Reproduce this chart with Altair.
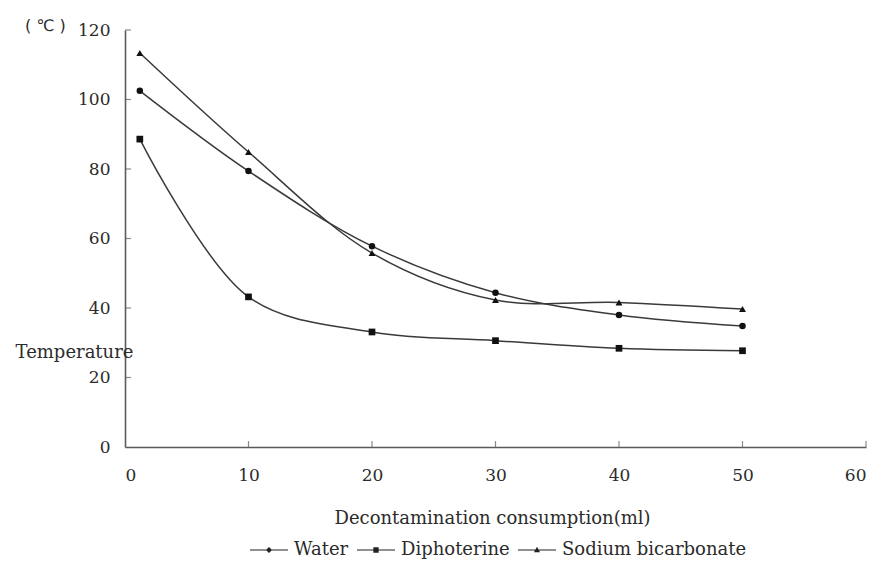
import altair as alt
import pandas as pd

# ---- data ----
consumption = [1.2, 10, 20, 30, 40, 50]
water = [102.5, 79.4, 57.8, 44.4, 38.0, 34.8]
diphoterine = [88.6, 43.2, 33.1, 30.6, 28.4, 27.7]
sodium_bicarbonate = [113.4, 84.9, 55.8, 42.3, 41.6, 39.7]
series_names = ["Water", "Diphoterine", "Sodium bicarbonate"]
x_tick_values = [0, 10, 20, 30, 40, 50, 60]
y_tick_values = [0, 20, 40, 60, 80, 100, 120]

rows = []
for name, vals in zip(series_names, [water, diphoterine, sodium_bicarbonate]):
    for x, v in zip(consumption, vals):
        rows.append({"x": x, "temp": v, "series": name})
df = pd.DataFrame(rows)

FONT = "DejaVu Serif"
INK = "#2b2b2b"
AXIS = "#5a5a5a"

xs = alt.Scale(domain=[0, 60], nice=False, zero=False)
ys = alt.Scale(domain=[0, 120], nice=False)

x_enc = alt.X(
    "x:Q", scale=xs,
    axis=alt.Axis(
        values=x_tick_values, grid=False, ticks=False, labelPadding=20,
        labelFont=FONT, labelFontSize=17, labelColor=INK,
        domainColor=AXIS, domainWidth=1.6,
        title="Decontamination consumption(ml)", titleFont=FONT,
        titleFontSize=18, titleFontWeight="normal", titleColor=INK,
        titleX=367, titleY=71, titleAlign="center", titleBaseline="middle",
    ),
)
y_enc = alt.Y(
    "temp:Q", scale=ys,
    axis=alt.Axis(
        values=y_tick_values, grid=False, ticks=False, labelPadding=15,
        labelFont=FONT, labelFontSize=17, labelColor=INK,
        domainColor=AXIS, domainWidth=1.6,
        title="Temperature", titleFont=FONT, titleFontSize=18,
        titleFontWeight="normal", titleColor=INK, titleAngle=0,
        titleX=-51, titleY=322, titleAlign="center", titleBaseline="middle",
    ),
)

lines = alt.Chart(df).mark_line(
    interpolate="catmull-rom", color="#3a3a3a", strokeWidth=1.5
).encode(x=x_enc, y=y_enc, detail="series:N")

points = alt.Chart(df).mark_point(filled=True, color="#111111", opacity=1).encode(
    x=x_enc, y=y_enc,
    shape=alt.Shape(
        "series:N",
        scale=alt.Scale(domain=series_names, range=["circle", "square", "triangle-up"]),
        legend=None,
    ),
    size=alt.Size(
        "series:N",
        scale=alt.Scale(domain=series_names, range=[42, 48, 52]),
        legend=None,
    ),
)

legend_paths = [
    "M-1,-0.025L1,-0.025L1,0.025L-1,0.025Z M0,-0.16L0.16,0L0,0.16L-0.16,0Z",
    "M-1,-0.025L1,-0.025L1,0.025L-1,0.025Z M-0.14,-0.14L0.14,-0.14L0.14,0.14L-0.14,0.14Z",
    "M-1,-0.025L1,-0.025L1,0.025L-1,0.025Z M0,-0.17L0.16,0.12L-0.16,0.12Z",
]
legend_layer = alt.Chart(df).mark_point(filled=True, color="#222222", opacity=0).encode(
    x=x_enc, y=y_enc,
    shape=alt.Shape(
        "series:N",
        scale=alt.Scale(domain=series_names, range=legend_paths),
        legend=alt.Legend(
            title=None, orient="none", direction="horizontal",
            legendX=125, legendY=501,
            symbolSize=1444, symbolOpacity=1, symbolFillColor="#222222",
            symbolStrokeWidth=0, labelFont=FONT, labelFontSize=18,
            labelColor=INK, labelOffset=6, columnPadding=8, labelLimit=400,
        ),
    ),
)

x_ticks = alt.Chart(pd.DataFrame({"t": x_tick_values[1:]})).mark_tick(
    orient="vertical", size=6, thickness=1.2, color=AXIS, yOffset=-3
).encode(x=alt.X("t:Q", scale=xs), y=alt.YDatum(0, scale=ys))

y_ticks = alt.Chart(pd.DataFrame({"t": y_tick_values[1:]})).mark_tick(
    orient="horizontal", size=6, thickness=1.2, color=AXIS, xOffset=3
).encode(y=alt.Y("t:Q", scale=ys), x=alt.XDatum(0, scale=xs))

chart = (
    alt.layer(lines, points, legend_layer, x_ticks, y_ticks)
    .resolve_scale(shape="independent", size="independent")
    .properties(
        width=741, height=417,
        view=alt.ViewBackground(stroke="transparent", strokeWidth=0),
        autosize=alt.AutoSizeParams(type="none"),
        padding={"left": 117, "top": 22, "right": 10, "bottom": 114},
        title=alt.TitleParams(
            "( ℃ )", anchor="start", frame="group", orient="top",
            font="DejaVu Sans", fontSize=16, fontWeight="normal",
            color=INK, dx=-100, dy=24, offset=3, baseline="middle",
        ),
    )
    .configure_view(stroke="transparent", strokeWidth=0)
    .configure(background="white")
)

chart.save("out.html", embed_options={"renderer": "svg", "actions": False})
